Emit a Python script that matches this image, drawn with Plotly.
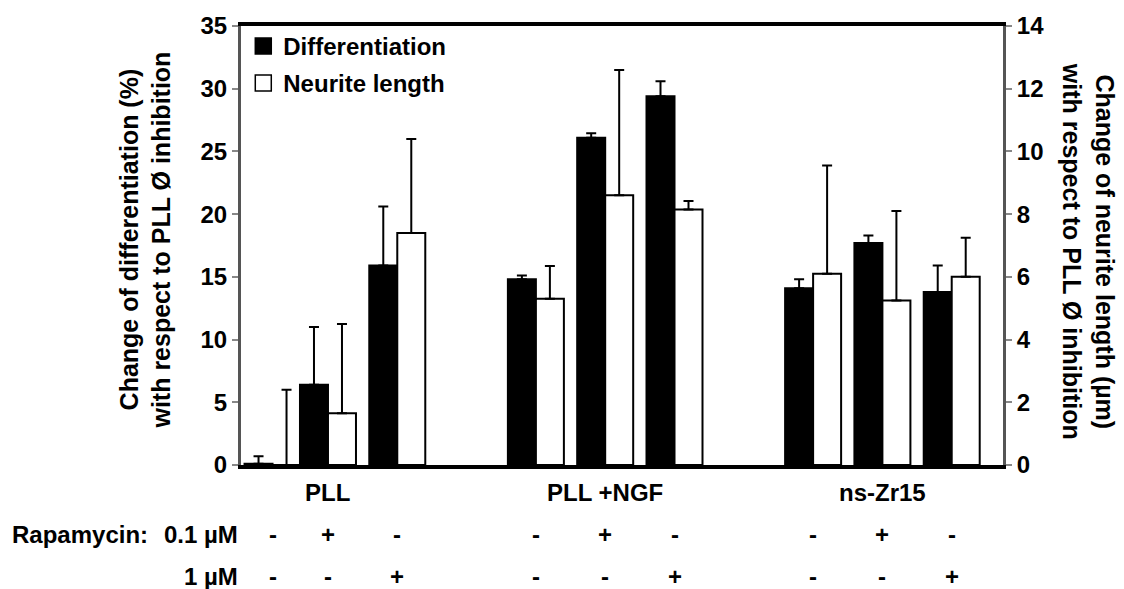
import plotly.graph_objects as go

# ---- data ----
groups = ["PLL", "PLL +NGF", "ns-Zr15"]
rapa_01 = ["-", "+", "-"]          # Rapamycin 0.1 µM per condition within a group
rapa_1 = ["-", "-", "+"]           # Rapamycin 1 µM per condition within a group

diff_vals = [0.1, 6.4, 15.9, 14.8, 26.1, 29.4, 14.1, 17.7, 13.8]        # % (left axis)
diff_err = [0.6, 4.6, 4.7, 0.3, 0.35, 1.2, 0.7, 0.6, 2.1]
neur_vals = [0.0, 1.65, 7.4, 5.3, 8.6, 8.15, 6.1, 5.25, 6.0]             # µm (right axis)
neur_err = [2.4, 2.85, 3.0, 1.05, 4.0, 0.27, 3.45, 2.85, 1.25]

# ---- category slots: 3 conditions per group, one empty slot between groups ----
x_pos = []
for g in range(len(groups)):
    for c in range(3):
        x_pos.append(g * 4 + c)
x_pos[0] += 0.2   # first pair sits slightly right in the original figure
group_centers = [g * 4 + 1 for g in range(len(groups))]

BAR_W = 0.404
FONT = "Liberation Sans, Arial, sans-serif"
FS = 24

fig = go.Figure()

fig.add_trace(go.Bar(
    x=x_pos, y=diff_vals, width=BAR_W, offset=-BAR_W,
    marker=dict(color="black", line=dict(color="black", width=2)),
    error_y=dict(type="data", symmetric=False, array=diff_err,
                 arrayminus=[0] * len(diff_err), color="black", thickness=2, width=5),
    showlegend=False, yaxis="y",
))
fig.add_trace(go.Bar(
    x=x_pos, y=neur_vals, width=BAR_W, offset=0,
    marker=dict(color="white", line=dict(color="black", width=2)),
    error_y=dict(type="data", symmetric=False, array=neur_err,
                 arrayminus=[0] * len(neur_err), color="black", thickness=2, width=5),
    showlegend=False, yaxis="y2",
))

# legend proxies (square swatches)
fig.add_trace(go.Scatter(x=[None], y=[None], mode="markers", name="Differentiation",
                         marker=dict(symbol="square", size=16, color="black",
                                     line=dict(color="black", width=1.5)),
                         legendgroup="a"))
fig.add_trace(go.Scatter(x=[None], y=[None], mode="markers", name="Neurite length",
                         marker=dict(symbol="square", size=16, color="white",
                                     line=dict(color="black", width=1.5)),
                         legendgroup="b"))

annotations = []
# group labels
for gc, name in zip(group_centers, groups):
    annotations.append(dict(x=gc, y=-0.062, xref="x", yref="paper", text=name,
                            showarrow=False, xanchor="center", yanchor="middle"))
# +/- rows
for i, xp in enumerate(x_pos):
    c = i % 3
    annotations.append(dict(x=xp, y=-0.158, xref="x", yref="paper", text=rapa_01[c],
                            showarrow=False, xanchor="center", yanchor="middle"))
    annotations.append(dict(x=xp, y=-0.255, xref="x", yref="paper", text=rapa_1[c],
                            showarrow=False, xanchor="center", yanchor="middle"))
# row labels
annotations.append(dict(x=-0.303, y=-0.158, xref="paper", yref="paper", text="Rapamycin:",
                        showarrow=False, xanchor="left", yanchor="middle"))
annotations.append(dict(x=-0.001, y=-0.158, xref="paper", yref="paper", text="0.1 µM",
                        showarrow=False, xanchor="right", yanchor="middle"))
annotations.append(dict(x=-0.001, y=-0.255, xref="paper", yref="paper", text="1 µM",
                        showarrow=False, xanchor="right", yanchor="middle"))
# axis titles
annotations.append(dict(x=-0.125, y=0.513, xref="paper", yref="paper",
                        text="Change of differentiation (%)<br>with respect to PLL Ø inhibition",
                        textangle=-90, showarrow=False, xanchor="center", yanchor="middle",
                        font=dict(size=25)))
annotations.append(dict(x=1.112, y=0.487, xref="paper", yref="paper",
                        text="Change of neurite length (µm)<br>with respect to PLL Ø inhibition",
                        textangle=90, showarrow=False, xanchor="center", yanchor="middle",
                        font=dict(size=25)))

fig.update_layout(
    width=1124, height=589,
    margin=dict(l=241, r=121, t=21, b=124, pad=0),
    paper_bgcolor="white", plot_bgcolor="white",
    font=dict(family=FONT, size=FS, color="black", weight="bold"),
    barmode="overlay",
    xaxis=dict(range=[-0.255, 10.74], showticklabels=False, ticks="",
               showgrid=False, zeroline=False, showline=True, mirror=True,
               linecolor="black", linewidth=4),
    yaxis=dict(range=[0, 35], dtick=5, ticks="outside", ticklen=6, tickwidth=2,
               tickcolor="#888", showgrid=False, zeroline=False, showline=True,
               linecolor="#555", linewidth=3,
               tickfont=dict(family=FONT, size=FS, color="black", weight="bold")),
    yaxis2=dict(range=[0, 14], dtick=2, overlaying="y", side="right",
                ticks="outside", ticklen=6, tickwidth=2, tickcolor="#888",
                showgrid=False, zeroline=False, showline=True,
                linecolor="#555", linewidth=3,
                tickfont=dict(family=FONT, size=FS, color="black", weight="bold")),
    legend=dict(x=0.003, y=1.005, xanchor="left", yanchor="top",
                bgcolor="rgba(0,0,0,0)", tracegroupgap=3, traceorder="grouped",
                font=dict(family=FONT, size=FS, color="black", weight="bold"),
                itemwidth=30),
    annotations=annotations,
)

# remove the default 8px page margin so the figure sits at the window origin
fig.write_html("out.html", config={"displayModeBar": False},
               post_script="document.body.style.margin='0px';")
